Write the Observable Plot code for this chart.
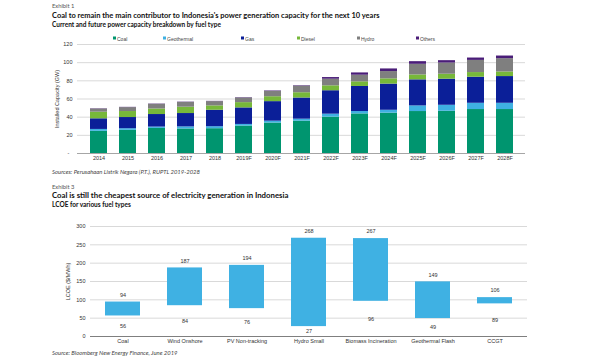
<!DOCTYPE html>
<html><head><meta charset="utf-8">
<script src="https://cdn.jsdelivr.net/npm/d3@7"></script>
<script src="https://cdn.jsdelivr.net/npm/@observablehq/plot@0.6"></script>
<style>
body{margin:0;background:#fff;width:600px;height:360px;overflow:hidden;position:relative;font-family:Lato,"Open Sans",sans-serif;}
.t{position:absolute;left:52px;white-space:nowrap;line-height:1;transform:translateY(-50%);}
.ex{font-size:5.8px;color:#555;}
.ti{font-size:7.8px;font-weight:700;color:#111;}
.st{font-size:6.5px;font-weight:700;color:#111;}
.src{font-size:5.9px;font-style:italic;color:#444;}
.lg{position:absolute;top:38.7px;transform:translateY(-50%);font-family:"Liberation Sans",Arial,sans-serif;font-size:5px;color:#444;white-space:nowrap;line-height:1;}
.lg i{display:inline-block;width:3px;height:3px;margin-right:1px;vertical-align:middle;position:relative;top:-0.5px;}
.ch{position:absolute;left:0;}
</style></head><body>
<div class="t ex" style="top:5.7px">Exhibit 1</div>
<div class="t ti" style="top:15.7px;font-size:7.5px">Coal to remain the main contributor to Indonesia's power generation capacity for the next 10 years</div>
<div class="t st" style="top:25px">Current and future power capacity breakdown by fuel type</div>
<div id="legend"></div>
<div id="c1" class="ch" style="top:40px"></div>
<div class="t src" style="top:172.3px">Sources: Perusahaan Listrik Negara (P.T.), RUPTL 2019-2028</div>
<div class="t ex" style="top:187px">Exhibit 3</div>
<div class="t ti" style="top:196px">Coal is still the cheapest source of electricity generation in Indonesia</div>
<div class="t st" style="top:205px">LCOE for various fuel types</div>
<div id="c2" class="ch" style="top:218px"></div>
<div class="t src" style="top:353.3px">Source: Bloomberg New Energy Finance, June 2019</div>
<script>
// Exhibit 1 data (GW)
const years = ["2014","2015","2016","2017","2018","2019F","2020F","2021F","2022F","2023F","2024F","2025F","2026F","2027F","2028F"];
const fuels = ["Coal","Geothermal","Gas","Diesel","Hydro","Others"];
const fuelColors = ["#00956f","#3fb0e2","#0b1f98","#77b83a","#7f7f7f","#4a1d78"];
const coal       = [24.4,25.5,27.6,27.0,27.3,30.2,33.5,35.6,40.0,43.6,44.4,46.2,46.5,48.4,48.4];
const geothermal = [2.1,1.8,1.5,2.3,2.2,1.8,2.1,2.2,3.3,2.6,3.2,6.2,6.6,6.9,6.9];
const gas        = [11.7,12.3,13.8,14.7,18.1,18.2,21.5,23.3,25.8,27.6,28.8,28.7,28.7,28.7,29.4];
const diesel     = [7.3,6.6,6.1,7.0,4.8,5.8,5.4,5.8,5.4,5.1,5.8,5.4,5.5,5.1,5.1];
const hydro      = [3.5,4.3,5.2,5.3,4.7,5.1,5.9,7.3,7.3,7.3,8.0,11.7,12.3,13.4,14.6];
const others     = [0.3,0.3,0.3,0.3,0.3,0.4,0.5,0.5,1.8,2.5,2.9,2.9,2.6,2.6,2.9];
const yTicks1 = [0,20,40,60,80,100,120];

// Exhibit 3 data ($/MWh)
const types = ["Coal","Wind Onshore","PV Non-tracking","Hydro Small","Biomass Incineration","Geothermal Flash","CCGT"];
const lcoeMin = [56,84,76,27,96,49,89];
const lcoeMax = [94,187,194,268,267,149,106];
const yTicks2 = [0,50,100,150,200,250,300];

// legend
const legendX = [113,163,241,297,357,416];
const lg = document.getElementById("legend");
fuels.forEach((f,i)=>{
  const d=document.createElement("div");d.className="lg";d.style.left=legendX[i]+"px";
  d.innerHTML=`<i style="background:${fuelColors[i]}"></i>${f}`;lg.appendChild(d);
});

const series = [coal,geothermal,gas,diesel,hydro,others];
const rows = [];
fuels.forEach((f,i)=>years.forEach((y,j)=>rows.push({year:y,fuel:f,value:series[i][j]})));

const axisStyle = {fontFamily:"'Liberation Sans',Arial,sans-serif",fontSize:"5.5px",color:"#333",background:"transparent"};

const p1 = Plot.plot({
  width:600,height:124,marginTop:4,marginBottom:11,marginLeft:77,marginRight:75,
  style:axisStyle,
  x:{domain:years,paddingInner:0.42,paddingOuter:0.21,label:null,tickSize:0,tickPadding:3},
  y:{domain:[0,120],ticks:yTicks1,tickFormat:d=>d===0?"-\u00a0\u00a0":String(d),label:"Installed Capacity (GW)",labelAnchor:"center",labelArrow:"none",labelOffset:22,tickSize:0,tickPadding:5},
  color:{domain:fuels,range:fuelColors},
  marks:[
    Plot.gridY(yTicks1,{stroke:"#d9d9d9",strokeOpacity:1}),
    Plot.barY(rows,{x:"year",y:"value",fill:"fuel"}),
    Plot.ruleY([0],{stroke:"#a6a6a6"})
  ]
});
document.getElementById("c1").appendChild(p1);

const lcoe = types.map((t,i)=>({type:t,min:lcoeMin[i],max:lcoeMax[i]}));
const p2 = Plot.plot({
  width:600,height:128,marginTop:8,marginBottom:10,marginLeft:90,marginRight:73,
  style:axisStyle,
  x:{domain:types,paddingInner:0.44,paddingOuter:0.22,label:null,tickSize:0,tickPadding:3},
  y:{domain:[0,300],ticks:yTicks2,label:"LCOE ($/MWh)",labelAnchor:"center",labelArrow:"none",labelOffset:24,tickSize:0,tickPadding:5},
  marks:[
    Plot.gridY(yTicks2,{stroke:"#d9d9d9",strokeOpacity:1}),
    Plot.barY(lcoe,{x:"type",y1:"min",y2:"max",fill:"#3fb1e3"}),
    Plot.ruleY([0],{stroke:"#7f7f7f"}),
    Plot.text(lcoe,{x:"type",y:"max",text:"max",dy:-7,fill:"#333"}),
    Plot.text(lcoe,{x:"type",y:d=>d.min/2,text:"min",fill:"#333"})
  ]
});
document.getElementById("c2").appendChild(p2);
</script>
</body></html>
